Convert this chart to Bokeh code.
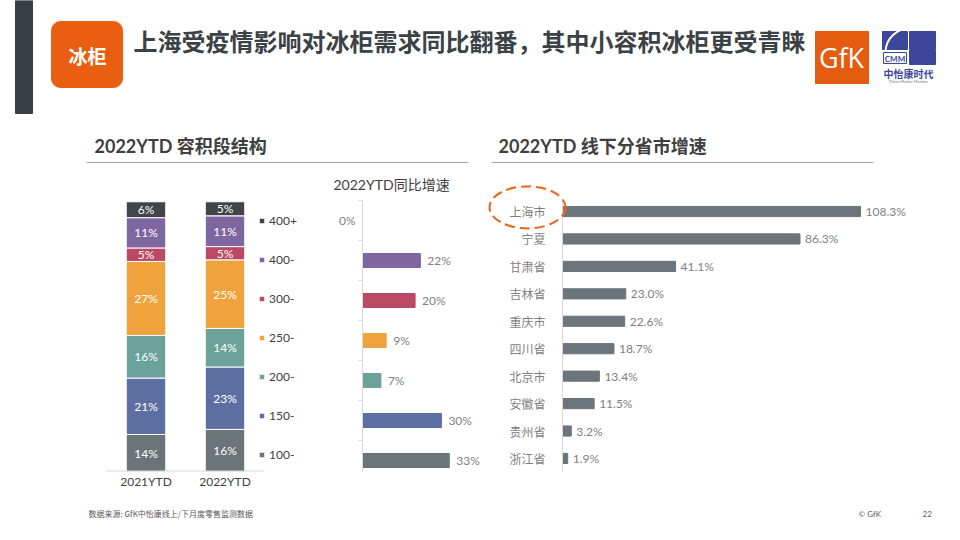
from bokeh.plotting import figure
from bokeh.layouts import column, row
from bokeh.models import (Range1d, ColumnDataSource, LabelSet, Legend,
                          LegendItem, FixedTicker)
from bokeh.core.properties import value
from bokeh.embed import file_html
from bokeh.resources import INLINE
import numpy as np

# ---------------- data ----------------
periods = ["2021YTD", "2022YTD"]
segments = ["100-", "150-", "200-", "250-", "300-", "400-", "400+"]
share_2021 = [13.7, 20.9, 15.8, 27.4, 5.0, 11.2, 5.9]
share_2022 = [15.6, 23.1, 14.3, 25.4, 4.9, 11.4, 5.2]
seg_growth = [33, 30, 7, 9, 20, 22, 0]
provinces = ["上海市", "宁夏", "甘肃省", "吉林省", "重庆市", "四川省", "北京市", "安徽省", "贵州省", "浙江省"]
prov_growth = [108.3, 86.3, 41.1, 23.0, 22.6, 18.7, 13.4, 11.5, 3.2, 1.9]

title_text = "上海受疫情影响对冰柜需求同比翻番，其中小容积冰柜更受青睐"
tag_text = "冰柜"
left_title = "2022YTD 容积段结构"
right_title = "2022YTD 线下分省市增速"
mid_title = "2022YTD同比增速"
source_text = "数据来源: GfK中怡康线上/下月度零售监测数据"

# ---------------- styles ----------------
seg_colors = ["#6b7479", "#5c6ea2", "#6ba29a", "#f0a33d", "#bb4966", "#7e66a1", "#3f4549"]
CJK = value("Noto Sans CJK SC")
MIX = value("Lato, 'Noto Sans CJK SC'")
LATO = value("Lato")
DARK = "#404040"
GREY = "#7f7f7f"
AXIS = "#d9d9d9"

# shared frame geometry for the three charts (row aligns frames)
TOP, BOT, ROW_H = 30, 24, 325
FRAME_H = ROW_H - TOP - BOT  # 271


def blank(fig):
    fig.outline_line_color = None
    fig.background_fill_color = "white"
    fig.border_fill_color = "white"
    return fig


# ---------------- header ----------------
head = figure(width=944, height=170, x_range=Range1d(0, 944), y_range=Range1d(170, 0),
              x_axis_type=None, y_axis_type=None, min_border=0,
              output_backend="svg", toolbar_location=None)
blank(head)
head.quad(left=[15], right=[32], top=[0], bottom=[113], color="#383f43")
head.quad(left=[51], right=[122], top=[21], bottom=[87], color="#e95e10", border_radius=9)
head.text(x=[87], y=[55], text=[tag_text], text_align="center", text_baseline="middle",
          text_font=CJK, text_font_style="bold", text_font_size="19px", text_color="white")
head.text(x=[133], y=[40], text=[title_text], text_align="left", text_baseline="middle",
          text_font=CJK, text_font_style="bold", text_font_size="24px", text_color="#3b4246")
# GfK logo
head.quad(left=[815], right=[868], top=[31], bottom=[83], color="#e55b0f")
head.text(x=[841], y=[57], text=["GfK"], text_align="center", text_baseline="middle",
          text_font=value("Open Sans"), text_font_size="27px", text_color="white")
# CMM logo
blue = "#3d4799"
head.quad(left=[882, 909, 909], right=[907, 935, 935], top=[31, 31, 50], bottom=[49, 49, 64], color=blue)
head.quad(left=[883], right=[906], top=[52], bottom=[63], fill_color=None, line_color=blue, line_width=1)
head.arc(x=[909], y=[52], radius=24, start_angle=np.pi * 0.5, end_angle=np.pi * 0.98,
         line_color="white", line_width=2)
head.text(x=[894.5], y=[58], text=["CMM"], text_align="center", text_baseline="middle",
          text_font=LATO, text_font_style="bold", text_font_size="8px", text_color=blue)
head.text(x=[908], y=[73], text=["中怡康时代"], text_align="center", text_baseline="middle",
          text_font=CJK, text_font_style="bold", text_font_size="10px", text_color=blue)
head.text(x=[908], y=[81], text=["China Market Monitor"], text_align="center", text_baseline="middle",
          text_font=LATO, text_font_size="4px", text_color="#777777")
# section titles
head.text(x=[94, 498], y=[145, 145], text=[left_title, right_title], text_baseline="middle",
          text_font=MIX, text_font_style="bold", text_font_size="18px", text_color=DARK)
head.segment(x0=[86, 491], x1=[468, 873], y0=[162, 162], y1=[162, 162], line_color="#a6a6a6", line_width=1)

# ---------------- left: stacked share ----------------
PXC = 79.0                      # px per period column
BAR_PX = 270.0                  # px for 100 %
left = figure(width=320, height=ROW_H, x_range=Range1d(-0.5, -0.5 + 214 / PXC),
              y_range=Range1d(0, 100 * FRAME_H / BAR_PX),
              min_border_left=106, min_border_right=0, min_border_top=TOP, min_border_bottom=BOT,
              output_backend="svg", toolbar_location=None)
blank(left)
xs = list(range(len(periods)))
data = dict(x=xs)
for i, s in enumerate(segments):
    data[s] = [share_2021[i], share_2022[i]]
src = ColumnDataSource(data)
rends = left.vbar_stack(segments, x="x", width=0.5, color=seg_colors, line_color="white",
                        line_width=1, source=src)
lx, ly, lt = [], [], []
for j, vals in enumerate([share_2021, share_2022]):
    c = np.cumsum(vals)
    for i, v in enumerate(vals):
        lx.append(xs[j])
        ly.append(c[i] - v / 2)
        lt.append(f"{v:.0f}%")
left.text(x=lx, y=ly, text=lt, text_align="center", text_baseline="middle",
          text_font=LATO, text_font_size="12px", text_color="white")
left.segment(x0=[-0.5], x1=[len(periods) - 0.5], y0=[0], y1=[0], line_color=AXIS, line_width=2)
left.yaxis.visible = False
left.grid.visible = False
left.xaxis.ticker = FixedTicker(ticks=xs)
left.xaxis.major_label_overrides = {i: p for i, p in enumerate(periods)}
left.xaxis.axis_line_color = None
left.xaxis.major_tick_line_color = None
left.xaxis.minor_tick_line_color = None
left.xaxis.major_tick_out = 0
left.xaxis.major_tick_in = 0
left.xaxis.major_label_standoff = 2
left.xaxis.major_label_text_font = "Lato"
left.xaxis.major_label_text_font_size = "12px"
left.xaxis.major_label_text_color = DARK
items = [LegendItem(label=s, renderers=[r]) for s, r in zip(segments, rends)][::-1]
legend = Legend(items=items, location=(152, 7), orientation="vertical",
                glyph_width=7, glyph_height=7, label_height=20, spacing=19, padding=0, margin=0,
                label_standoff=4, label_text_font="Lato", label_text_font_size="12px",
                label_text_color=DARK, border_line_color=None, background_fill_alpha=0)
left.add_layout(legend)

# ---------------- middle: segment growth ----------------
disp_seg = segments[::-1]
disp_growth = seg_growth[::-1]
disp_col = seg_colors[::-1]
n = len(disp_seg)
ROW_PX = 40.0
mid = figure(width=160, height=ROW_H, x_range=Range1d(0, 118 / 2.63),
             y_range=Range1d(-0.5 + FRAME_H / ROW_PX, -0.5),
             min_border_left=42, min_border_right=0, min_border_top=TOP, min_border_bottom=BOT,
             output_backend="svg", toolbar_location=None)
blank(mid)
ys = list(range(n))
mid.hbar(y=ys, left=0, right=disp_growth, height=0.35, color=disp_col)
pos_x = [g for g in disp_growth if g > 0]
pos_y = [y for y, g in zip(ys, disp_growth) if g > 0]
zer_x = [g for g in disp_growth if g == 0]
zer_y = [y for y, g in zip(ys, disp_growth) if g == 0]
mid.text(x=pos_x, y=pos_y, text=[f"{g}%" for g in pos_x], x_offset=7, text_align="left",
         text_baseline="middle", text_font=LATO, text_font_size="12px", text_color=GREY, level="overlay")
mid.text(x=zer_x, y=zer_y, text=[f"{g}%" for g in zer_x], x_offset=-7, text_align="right",
         text_baseline="middle", text_font=LATO, text_font_size="12px", text_color=GREY, level="overlay")
mid.xaxis.visible = False
mid.grid.visible = False
bounds = [i - 0.5 for i in range(n + 1)]
mid.yaxis.ticker = FixedTicker(ticks=bounds)
mid.yaxis.major_label_overrides = {b: "" for b in bounds}
mid.yaxis.major_label_text_font_size = "1px"
mid.yaxis.axis_line_color = AXIS
mid.yaxis.major_tick_line_color = AXIS
mid.yaxis.major_tick_out = 4
mid.yaxis.major_tick_in = 0
mid.yaxis.minor_tick_line_color = None
mid.title.text = mid_title
mid.title.align = "left"
mid.title.vertical_align = "top"
mid.title.offset = -29
mid.title.text_font = "Lato, 'Noto Sans CJK SC'"
mid.title.text_font_style = "normal"
mid.title.text_font_size = "14px"
mid.title.text_color = DARK
mid.title.standoff = 11

# ---------------- right: province growth ----------------
SC = 2.752          # px per percentage point
PR = 27.44          # px per province row
FIRST = 11.0        # px from frame top to first row centre
npv = len(provinces)
right = figure(width=464, height=ROW_H,
               y_range=Range1d(-FIRST / PR + FRAME_H / PR, -FIRST / PR),
               x_range=Range1d(0, 382 / SC),
               min_border_left=82, min_border_right=0, min_border_top=TOP, min_border_bottom=BOT,
               output_backend="svg", toolbar_location=None)
blank(right)
pidx = list(range(npv))
psrc = ColumnDataSource(dict(p=pidx, v=prov_growth, t=[f"{v:.1f}%" for v in prov_growth]))
right.hbar(y="p", left=0, right="v", height=0.37, color="#6c757b", source=psrc)
right.add_layout(LabelSet(x="v", y="p", text="t", source=psrc, x_offset=5, text_align="left",
                          text_baseline="middle", text_font=LATO, text_font_size="12px", text_color=GREY))
right.ellipse(x=[-35 / SC], y=[pidx[0] - 0.15], width=76, height=42, width_units="screen",
              height_units="screen", fill_color=None, line_color="#e8661a", line_width=2,
              line_dash="10 5", level="overlay")
right.xaxis.visible = False
right.grid.visible = False
right.yaxis.ticker = FixedTicker(ticks=pidx)
right.yaxis.major_label_overrides = {i: p for i, p in enumerate(provinces)}
right.yaxis.axis_line_color = AXIS
right.yaxis.major_tick_line_color = None
right.yaxis.minor_tick_line_color = None
right.yaxis.major_tick_out = 0
right.yaxis.major_tick_in = 0
right.yaxis.major_label_standoff = 17
right.yaxis.major_label_text_font = "Noto Sans CJK SC"
right.yaxis.major_label_text_font_size = "12px"
right.yaxis.major_label_text_color = GREY

# ---------------- footer ----------------
foot = figure(width=944, height=29, x_range=Range1d(0, 944), y_range=Range1d(524, 495),
              x_axis_type=None, y_axis_type=None, min_border=0,
              output_backend="svg", toolbar_location=None)
blank(foot)
foot.text(x=[88], y=[513], text=[source_text], text_baseline="middle", text_font=CJK,
          text_font_size="8px", text_color="#595959")
foot.text(x=[858, 922], y=[513, 513], text=["© GfK", "22"], text_baseline="middle", text_font=LATO,
          text_font_size="8px", text_color="#595959")

layout = column(head, row(left, mid, right), foot)
open("out.html", "w").write(file_html(layout, INLINE))
